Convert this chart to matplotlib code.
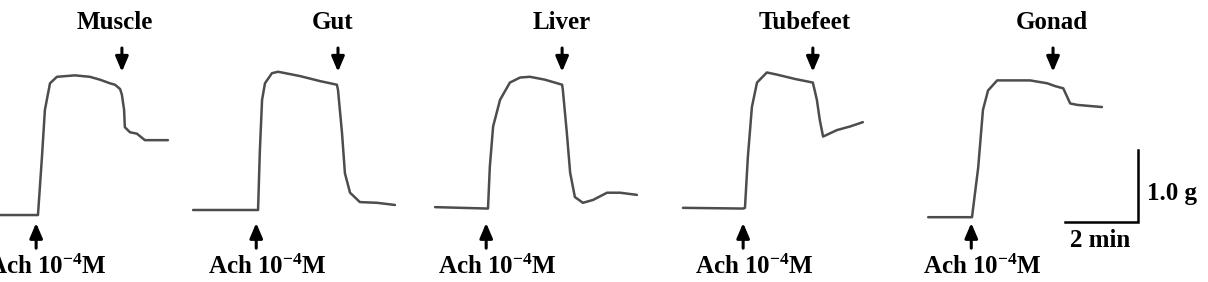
import matplotlib
matplotlib.use("Agg")
import matplotlib.pyplot as plt

plt.rcParams['font.family'] = ['Liberation Serif', 'DejaVu Serif']
plt.rcParams['font.weight'] = 'bold'
plt.rcParams['mathtext.fontset'] = 'custom'
plt.rcParams['mathtext.rm'] = 'Liberation Serif:bold'
plt.rcParams['mathtext.default'] = 'rm'

# tissue responses to Ach 10^-4 M: time (min, 0 = Ach added) vs tension (g above baseline)
tissues = ['Muscle', 'Gut', 'Liver', 'Tubefeet', 'Gonad']

muscle_t = [-1.04, 0, 0.11, 0.19, 0.33, 0.52, 1.01, 1.42, 1.70, 1.97, 2.11, 2.25, 2.30, 2.36, 2.38, 2.52, 2.71, 2.93, 3.56]
muscle_g = [0, 0, 0.81, 1.46, 1.83, 1.92, 1.94, 1.92, 1.88, 1.83, 1.81, 1.75, 1.67, 1.46, 1.22, 1.15, 1.13, 1.04, 1.04]

gut_t = [-1.78, 0, 0.05, 0.11, 0.19, 0.38, 0.55, 1.15, 1.70, 2.16, 2.19, 2.30, 2.38, 2.52, 2.79, 3.26, 3.75]
gut_g = [0, 0, 0.83, 1.53, 1.76, 1.90, 1.92, 1.86, 1.79, 1.74, 1.67, 1.07, 0.51, 0.24, 0.11, 0.10, 0.07]

liver_t = [-1.45, 0, 0.05, 0.14, 0.33, 0.60, 0.88, 1.15, 1.56, 2.03, 2.05, 2.16, 2.25, 2.38, 2.60, 2.88, 3.26, 3.62, 4.08]
liver_g = [0.01, -0.01, 0.57, 1.13, 1.50, 1.74, 1.81, 1.82, 1.78, 1.71, 1.64, 1.04, 0.49, 0.15, 0.07, 0.11, 0.21, 0.21, 0.18]

tube_t = [-1.70, -0.05, 0, 0.08, 0.19, 0.33, 0.60, 0.88, 1.37, 1.86, 1.97, 2.05, 2.14, 2.52, 2.88, 3.23]
tube_g = [0, -0.01, 0, 0.71, 1.40, 1.74, 1.88, 1.85, 1.79, 1.74, 1.50, 1.22, 0.99, 1.08, 1.13, 1.19]

gonad_t = [-1.23, -0.03, 0.14, 0.27, 0.41, 0.66, 0.93, 1.56, 2.03, 2.25, 2.47, 2.66, 2.85, 3.53]
gonad_g = [0, 0, 0.69, 1.49, 1.76, 1.90, 1.90, 1.90, 1.86, 1.82, 1.79, 1.58, 1.56, 1.53]

# washout time (down arrow), min after Ach
washout_t = [2.30, 2.19, 2.03, 1.86, 2.19]

ach_label = r'Ach 10$^{-4}$M'
bar_time = 2.0   # min
bar_force = 1.0  # g

traces = [(muscle_t, muscle_g), (gut_t, gut_g), (liver_t, liver_g), (tube_t, tube_g), (gonad_t, gonad_g)]

# layout (figure in min / g units)
x0 = [1.04, 7.07, 13.37, 20.41, 26.66]
y0 = [0.93, 1.00, 1.03, 1.03, 0.90]
title_dx = [-0.19, -0.14, 0.0, -0.22, -0.03]

fig = plt.figure(figsize=(12.08, 2.82), dpi=100)
ax = fig.add_axes([0, 0, 1, 1])
ax.set_xlim(0, 1208 / 36.5)
ax.set_ylim(0, 282 / 72)
ax.axis('off')

arrow = dict(arrowstyle='-|>,head_length=0.75,head_width=0.32', color='black',
             lw=2.2, mutation_scale=12, shrinkA=0, shrinkB=0)

for name, (t, g), xo, yo, tw, dx in zip(tissues, traces, x0, y0, washout_t, title_dx):
    ax.plot([xo + v for v in t], [yo + v for v in g], color='#4d4d4d', lw=1.8,
            solid_joinstyle='round', solid_capstyle='round')
    # washout arrow and tissue name
    ax.annotate('', xy=(xo + tw, 2.92), xytext=(xo + tw, 3.25), arrowprops=arrow)
    ax.text(xo + tw + dx, 3.60, name, ha='center', va='center', fontsize=18, fontweight='bold')
    # Ach arrow and label
    ax.annotate('', xy=(xo - 0.05, 0.82), xytext=(xo - 0.05, 0.47), arrowprops=arrow)
    ax.text(xo + 0.25, 0.21, ach_label, ha='center', va='center', fontsize=18, fontweight='bold')

# scale bar
cx, cy = 31.18, 0.83
ax.plot([cx - bar_time, cx, cx], [cy, cy, cy + bar_force], color='black', lw=1.8,
        solid_joinstyle='miter')
ax.text(cx + 0.25, cy + 0.40, '1.0 g', ha='left', va='center', fontsize=18, fontweight='bold')
ax.text(cx - bar_time / 2 - 0.05, cy - 0.26, '2 min', ha='center', va='center', fontsize=18, fontweight='bold')

fig.savefig('out.png', dpi=100, facecolor='white')
